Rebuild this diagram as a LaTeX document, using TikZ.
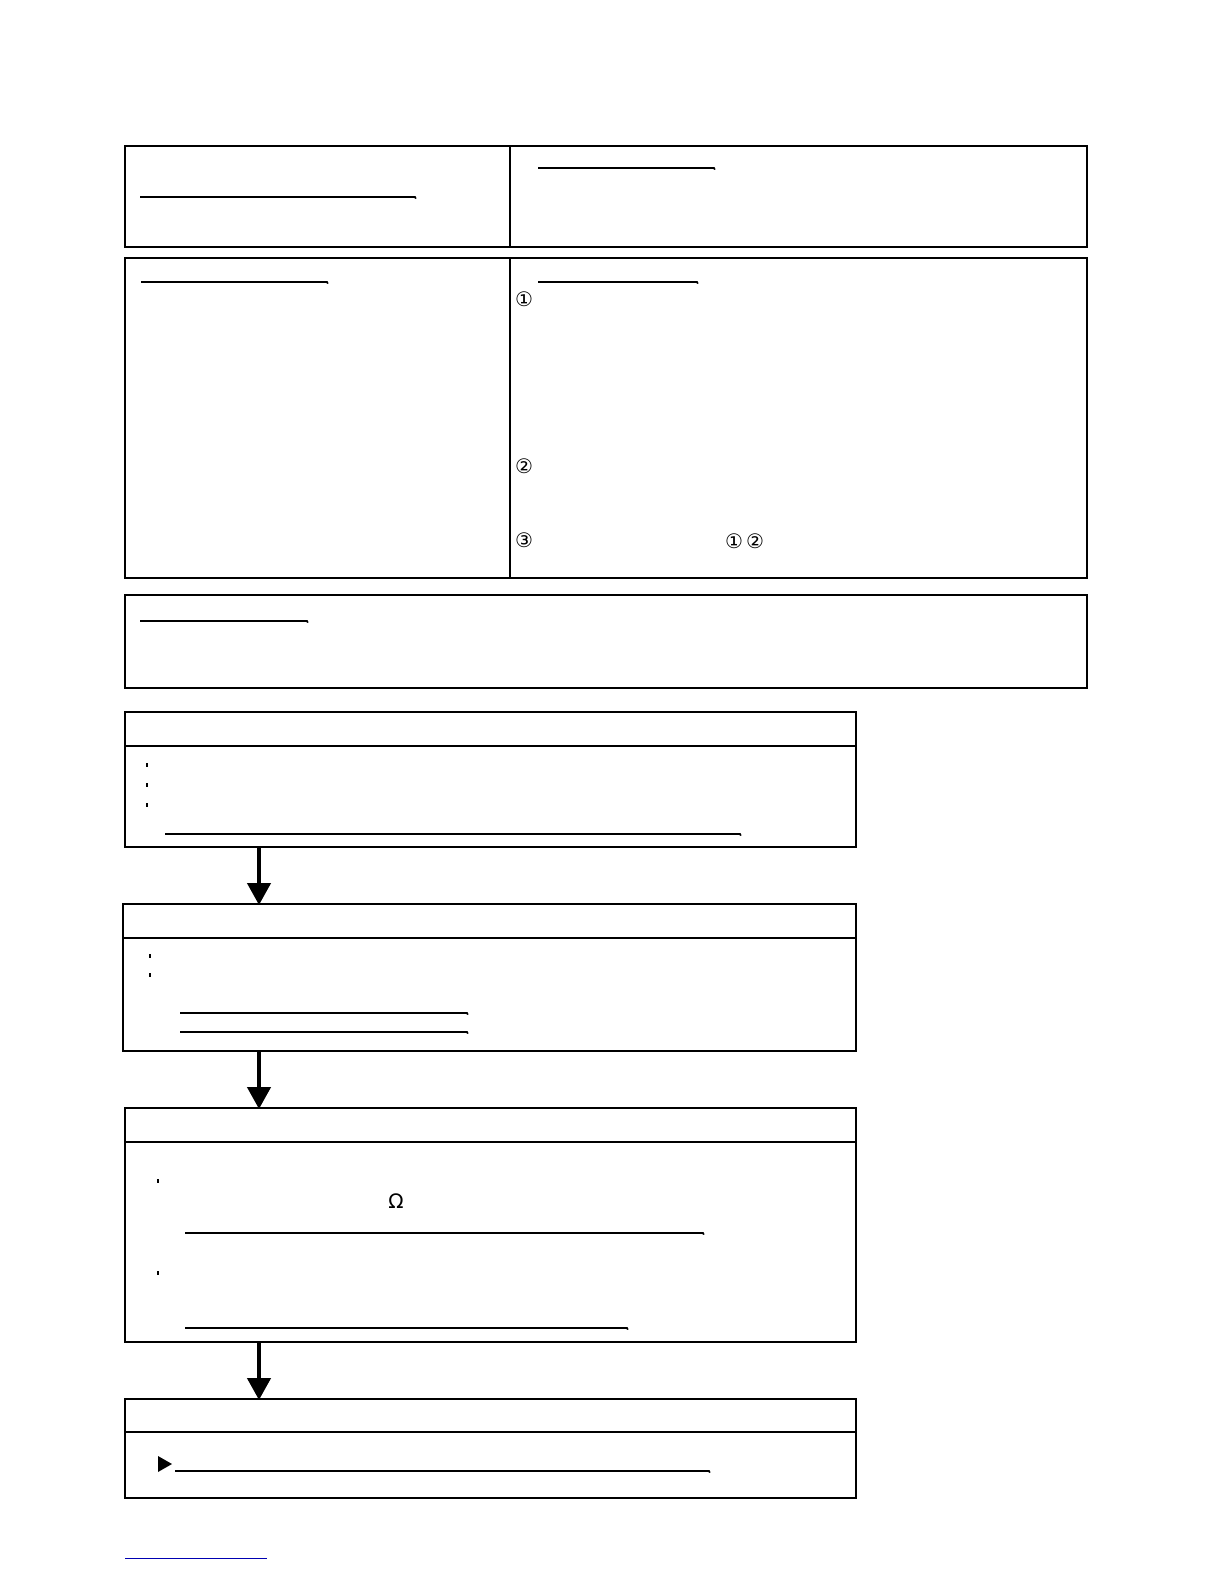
\documentclass[tikz,border=0pt]{standalone}
\usepackage{fontspec}
\newfontfamily\dejavu{DejaVu Sans}
\usetikzlibrary{arrows.meta}
\tikzset{
  frame/.style={draw=black, line width=1pt, inner sep=0pt, outer sep=0pt, rectangle, anchor=north west},
  flowbox/.style={draw=black, line width=0.8pt, inner sep=0pt, outer sep=0pt, rectangle, anchor=north west},
  uline/.style={draw=black, line width=0.8pt},
  divider/.style={draw=black, line width=0.8pt},
  flowarrow/.style={draw=black, line width=2.2pt, -{Triangle[width=11.5pt,length=11pt]}, shorten >=-0.5pt},
  glyph/.style={inner sep=0pt, font=\dejavu\fontsize{10pt}{12pt}\selectfont},
  dotmark/.style={fill=black, minimum width=1.1pt, minimum height=1.6pt, inner sep=0pt, rectangle}
}
\newcommand\mybox[6]{\node[#1, minimum width={(#5-#3)*0.5pt}, minimum height={(#6-#4)*0.5pt}] (#2) at (#3,#4) {};}
\newcommand\myuline[3]{\draw[uline] (#1,#3) -- (#2,#3) -- ++(0.8,1.6);}
\begin{document}
\begin{tikzpicture}[x=0.5pt,y=-0.5pt]
\useasboundingbox (0,0) rectangle (1224,1584);
% top table
\mybox{frame}{A}{125}{146}{510}{247}
\mybox{frame}{B}{510}{146}{1087}{247}
\mybox{frame}{C}{125}{258}{510}{578}
\mybox{frame}{D}{510}{258}{1087}{578}
\mybox{frame}{E}{125}{595}{1087}{688}
\myuline{140}{415}{197}
\myuline{538}{714}{168}
\myuline{141}{327}{282}
\myuline{538}{697}{282}
\myuline{140}{307}{621}
\node[glyph] (c1) at (524,299) {①};
\node[glyph] (c2) at (524,466) {②};
\node[glyph] (c3) at (524,540) {③};
\node[glyph] (c4) at (734,541) {①};
\node[glyph] (c5) at (755,541) {②};
% flow boxes
\mybox{flowbox}{F1}{125}{712}{856}{847}
\mybox{flowbox}{F2}{123}{904}{856}{1051}
\mybox{flowbox}{F3}{125}{1108}{856}{1342}
\mybox{flowbox}{F4}{125}{1399}{856}{1498}
\draw[divider] (125,746) -- (856,746);
\draw[divider] (123,938) -- (856,938);
\draw[divider] (125,1142) -- (856,1142);
\draw[divider] (125,1432) -- (856,1432);
\coordinate (ax) at (259,0);
\draw[flowarrow] (F1.south -| ax) -- (F2.north -| ax);
\draw[flowarrow] (F2.south -| ax) -- (F3.north -| ax);
\draw[flowarrow] (F3.south -| ax) -- (F4.north -| ax);
% flow box 1 content
\node[dotmark] (d11) at (147,765) {};
\node[dotmark] (d12) at (147,785) {};
\node[dotmark] (d13) at (147,805) {};
\myuline{165}{740}{834}
% flow box 2 content
\node[dotmark] (d21) at (150,956) {};
\node[dotmark] (d22) at (150,975) {};
\myuline{180}{467}{1013}
\myuline{180}{467}{1032}
% flow box 3 content
\node[dotmark] (d31) at (158,1181) {};
\node[dotmark] (d32) at (158,1273) {};
\node[glyph] (om) at (396,1201) {Ω};
\myuline{185}{703}{1233}
\myuline{185}{627}{1328}
% flow box 4 content
\fill[black] (158,1456) -- (172,1464) -- (158,1472) -- cycle;
\myuline{175}{709}{1471}
% footer link line
\draw[blue!70!black, line width=0.5pt] (125,1558) -- (267,1558);
\end{tikzpicture}
\end{document}
